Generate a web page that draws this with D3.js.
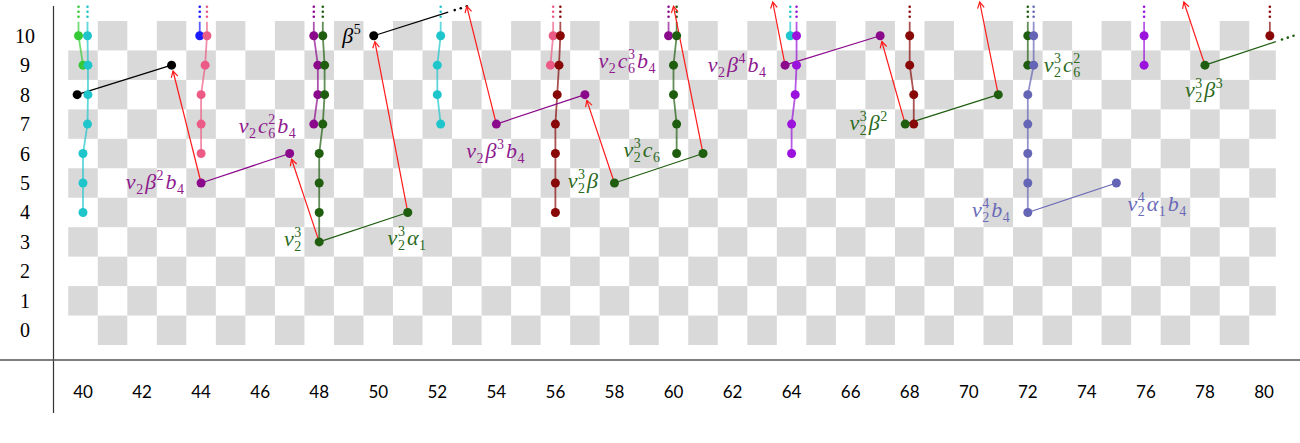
<!DOCTYPE html>
<html>
<head>
<meta charset="utf-8">
<script src="https://cdn.jsdelivr.net/npm/d3@7"></script>
<style>
  body { margin: 0; background: #fff; }
  svg { display: block; }
</style>
</head>
<body>
<div id="chart"></div>
<script>
// axis ticks
let xTicks = d3.range(40, 81, 2)
let yTicks = d3.range(0, 11)

// towers of classes joined by vertical lines: [s, dodge slot]
let towers = [
    {fam: "lime",   n: 40, pts: [[10, -1], [9, 0]]},
    {fam: "cyan",   n: 40, pts: [[10, 1], [9, 1.1], [8, 1.1], [7, 1], [6, 0], [5, 0], [4, 0]]},
    {fam: "blue",   n: 44, pts: [[10, -0.3]]},
    {fam: "pink",   n: 44, pts: [[10, 1.3], [9, 0.9], [8, 0], [7, 0], [6, 0]]},
    {fam: "plum",   n: 48, pts: [[10, -1.2], [9, -0.3], [8, -0.3], [7, -1.2]]},
    {fam: "green",  n: 48, pts: [[10, 0.8], [9, 1.2], [8, 1.2], [7, 0.8], [6, 0], [5, 0], [4, 0], [3, 0]]},
    {fam: "cyan",   n: 52, pts: [[10, 0.75], [9, 0], [8, 0], [7, 0.75]]},
    {fam: "pink",   n: 56, pts: [[10, -0.5], [9, -1.1]]},
    {fam: "maroon", n: 56, pts: [[10, 1.1], [9, 0.8], [8, 0.4], [7, 0], [6, 0], [5, 0], [4, 0]]},
    {fam: "plum",   n: 60, pts: [[10, -1.1]]},
    {fam: "green",  n: 60, pts: [[10, 0.7], [9, 0], [8, 0], [7, 0.7], [6, 0.7]]},
    {fam: "cyan",   n: 64, pts: [[10, -0.3]]},
    {fam: "violet", n: 64, pts: [[10, 1.1], [9, 1.1], [8, 0.8], [7, 0], [6, 0]]},
    {fam: "maroon", n: 68, pts: [[10, 0], [9, 0], [8, 0.9], [7, 0.9]]},
    {fam: "green",  n: 72, pts: [[10, 0], [9, 0]]},
    {fam: "slate",  n: 72, pts: [[10, 1.3], [9, 1.3], [8, 0], [7, 0], [6, 0], [5, 0], [4, 0]]},
    {fam: "violet", n: 76, pts: [[10, -0.4], [9, -0.4]]},
    {fam: "maroon", n: 80, pts: [[10, 1.3]]}
]

// single classes: [family, n, s, dodge slot]
let singles = [
    ["black", 40, 8, -1.3], ["black", 43, 9, 0], ["plum", 44, 5, 0], ["plum", 47, 6, 0],
    ["green", 51, 4, 0], ["black", 50, 10, -1], ["plum", 54, 7, 0], ["plum", 57, 8, 0],
    ["green", 58, 5, 0], ["green", 61, 6, 0], ["plum", 64, 9, -1.45], ["plum", 67, 10, 0],
    ["green", 68, 7, -1], ["green", 71, 8, 0], ["slate", 75, 5, 0], ["green", 78, 9, 0]
]

// product lines: family, from [n, s, slot], to [n, s, slot], runs off the chart
let products = [
    ["black", [40, 8, -1.3], [43, 9, 0], false],
    ["plum",  [44, 5, 0], [47, 6, 0], false],
    ["green", [48, 3, 0], [51, 4, 0], false],
    ["black", [50, 10, -1], [53, 11, 0], true],
    ["plum",  [54, 7, 0], [57, 8, 0], false],
    ["green", [58, 5, 0], [61, 6, 0], false],
    ["plum",  [64, 9, -1.45], [67, 10, 0], false],
    ["green", [68, 7, -1], [71, 8, 0], false],
    ["slate", [72, 4, 0], [75, 5, 0], false],
    ["green", [78, 9, 0], [81, 10, 0], true]
]

// differentials (red arrows): from, to
let diffs = [
    [[44, 5, 0], [43, 9, 0]],
    [[48, 3, 0], [47, 6, 0]],
    [[51, 4, 0], [50, 10, -1]],
    [[54, 7, 0], [53, 11, 0]],
    [[58, 5, 0], [57, 8, 0]],
    [[61, 6, 0], [60, 11, 0]],
    [[64, 9, -1.45], [63, 13, 0]],
    [[68, 7, -1], [67, 10, 0]],
    [[71, 8, 0], [70, 13, 0]],
    [[78, 9, 0], [77, 12, 0]]
]

// class names: family, text, anchor [n, s, slot]
let labels = [
    ["plum",  "v_{2}β^{2}b_{4}",        [44, 5, 0]],
    ["plum",  "v_{2}c_{6}^{2}b_{4}",    [47, 6, 0]],
    ["green", "v_{2}^{3}",              [48, 3, 0]],
    ["green", "v_{2}^{3}α_{1}",         [51, 4, 0]],
    ["black", "β^{5}",                  [50, 10, -1]],
    ["plum",  "v_{2}β^{3}b_{4}",        [54, 7, 0]],
    ["green", "v_{2}^{3}β",             [58, 5, 0]],
    ["green", "v_{2}^{3}c_{6}",         [61, 6, 0]],
    ["plum",  "v_{2}c_{6}^{3}b_{4}",    [60, 9, 0]],
    ["plum",  "v_{2}β^{4}b_{4}",        [64, 9, -1.45]],
    ["green", "v_{2}^{3}β^{2}",         [68, 7, -1]],
    ["green", "v_{2}^{3}c_{6}^{2}",     [72, 9, 0]],
    ["slate", "v_{2}^{4}b_{4}",         [72, 4, 0]],
    ["slate", "v_{2}^{4}α_{1}b_{4}",    [75, 5, 0]],
    ["green", "v_{2}^{3}β^{3}",         [78, 9, 0]]
]

// placement of each label relative to its anchor: dx, dy, text-anchor
let labelPlace = [
    [-15, 6, "end"], [8, -21, "end"], [-16, 4, "end"], [0, 33, "middle"], [-11, 7, "end"],
    [0, 34, "middle"], [-16, 5, "end"], [-41, 3, "end"], [-16, 3, "end"], [-17, 7, "end"],
    [-16, 6, "end"], [16, 7, "start"], [-16, 5, "end"], [11, 28, "start"], [0, 32, "middle"]
]

let palette = {
    lime: "#36c936", cyan: "#1ec6cc", black: "#000000", blue: "#1a1aff", pink: "#ec5b85",
    plum: "#8b0a8b", green: "#1f5e0f", maroon: "#880808", violet: "#9a12dc", slate: "#6565b5"
}
let labelColor = {plum: "#8e1a8e", green: "#2b6a1c", slate: "#6a6ab8", black: "#000000"}

let width = 1300, height = 443
let slotPx = 4.5, dotR = 4.5

let svg = d3.select("#chart").append("svg")
    .attr("width", width)
    .attr("height", height)

// scales
let x = d3.scaleLinear().domain([40, 80]).range([83, 1264])
let y = d3.scaleLinear().domain([-0.5, 10.5]).range([345, 21])
let colW = x(41) - x(40)

function px(p) { return x(p[0]) + (p[2] || 0) * slotPx }
function py(p) { return y(p[1]) }

// checkerboard background
let cells = []
for (let n = 40; n <= 80; n++) {
    for (let s = 0; s <= 10; s++) {
        if ((n + s) % 2 == 1) cells.push([n, s])
    }
}
svg.append("g").selectAll("rect")
    .data(cells)
    .enter()
    .append("rect")
    .attr("x", d => x(d[0]) - colW / 2)
    .attr("y", d => y(d[1] + 0.5))
    .attr("width", d => d[0] == 80 ? colW * 0.9 : colW)
    .attr("height", y(0) - y(1))
    .attr("fill", "#d9d9d9")

// axis lines
svg.append("line").attr("x1", 53.5).attr("x2", 53.5).attr("y1", 6).attr("y2", 413)
    .attr("stroke", "#333").attr("stroke-width", 1.2)
svg.append("line").attr("x1", 0).attr("x2", width).attr("y1", 360).attr("y2", 360)
    .attr("stroke", "#555").attr("stroke-width", 1.4)

// tick labels
svg.append("g").selectAll("text")
    .data(yTicks)
    .enter()
    .append("text")
    .attr("x", 25)
    .attr("y", d => y(d) + 7)
    .attr("text-anchor", "middle")
    .style("font-family", "'Liberation Serif', serif")
    .style("font-size", "20px")
    .text(d => d)

svg.append("g").selectAll("text")
    .data(xTicks)
    .enter()
    .append("text")
    .attr("x", d => x(d))
    .attr("y", 398)
    .attr("text-anchor", "middle")
    .style("font-family", "Lato, sans-serif")
    .style("font-size", "17px")
    .text(d => d)

// tower lines with the dotted continuation at the top
let towerG = svg.append("g")
towers.forEach(function(t) {
    let pts = t.pts.map(p => [t.n, p[0], p[1]])
    let col = palette[t.fam]
    towerG.append("path")
        .attr("d", d3.line().x(px).y(py)(pts))
        .attr("fill", "none")
        .attr("stroke", col)
        .attr("stroke-opacity", 0.7)
        .attr("stroke-width", 1.8)
    let top = pts[0]
    if (top[1] == 10) {
        towerG.append("line")
            .attr("x1", px(top)).attr("x2", px(top))
            .attr("y1", py(top)).attr("y2", py(top) - 14)
            .attr("stroke", col).attr("stroke-opacity", 0.7).attr("stroke-width", 1.8)
        towerG.selectAll(null)
            .data([19, 24, 29])
            .enter()
            .append("circle")
            .attr("cx", px(top))
            .attr("cy", d => py(top) - d)
            .attr("r", 1.3)
            .attr("fill", col)
    }
})

// product lines
let prodG = svg.append("g")
products.forEach(function(p) {
    let col = palette[p[0]]
    let a = p[1], b = p[2]
    let x0 = px(a), y0 = py(a), x1 = px(b), y1 = py(b)
    let f = p[3] ? 0.8 : 1
    prodG.append("line")
        .attr("x1", x0).attr("y1", y0)
        .attr("x2", x0 + (x1 - x0) * f).attr("y2", y0 + (y1 - y0) * f)
        .attr("stroke", col).attr("stroke-width", 1.2)
    if (p[3]) {
        prodG.selectAll(null)
            .data([0.87, 0.935, 1])
            .enter()
            .append("circle")
            .attr("cx", d => x0 + (x1 - x0) * d)
            .attr("cy", d => y0 + (y1 - y0) * d)
            .attr("r", 1.3)
            .attr("fill", col)
    }
})

// differentials, clipped at the top of the picture
let arrowG = svg.append("g")
diffs.forEach(function(d) {
    let a = d[0], b = d[1]
    let x0 = px(a), y0 = py(a), x1 = px(b), y1 = py(b)
    let len = Math.hypot(x1 - x0, y1 - y0)
    let ux = (x1 - x0) / len, uy = (y1 - y0) / len
    let tx, ty
    if (b[1] <= 10) {
        tx = x1 - ux * 6
        ty = y1 - uy * 6
    } else {
        let t = Math.min(1, (y0 - 2) / (y0 - y1))
        tx = x0 + (x1 - x0) * t
        ty = y0 + (y1 - y0) * t
    }
    arrowG.append("line")
        .attr("x1", x0).attr("y1", y0).attr("x2", tx).attr("y2", ty)
        .attr("stroke", "#ff1a1a").attr("stroke-width", 1.2)
    let ang = Math.atan2(uy, ux)
    let head = [ang + Math.PI - 0.5, ang + Math.PI + 0.5].map(g => [tx + 7 * Math.cos(g), ty + 7 * Math.sin(g)])
    arrowG.append("path")
        .attr("d", "M" + head[0] + "L" + tx + "," + ty + "L" + head[1])
        .attr("fill", "none")
        .attr("stroke", "#ff1a1a").attr("stroke-width", 1.2)
})

// dots
let dots = []
towers.forEach(t => t.pts.forEach(p => dots.push({fam: t.fam, p: [t.n, p[0], p[1]]})))
singles.forEach(s => dots.push({fam: s[0], p: [s[1], s[2], s[3]]}))
svg.append("g").selectAll("circle")
    .data(dots)
    .enter()
    .append("circle")
    .attr("cx", d => px(d.p))
    .attr("cy", d => py(d.p))
    .attr("r", dotR)
    .attr("fill", d => palette[d.fam])

// parse the small TeX-like names into base / sub / sup pieces
function parseName(str) {
    let out = []
    let i = 0
    while (i < str.length) {
        let c = str[i]
        if (c == "_" || c == "^") {
            let j = str.indexOf("}", i)
            let txt = str.slice(i + 2, j)
            let last = out[out.length - 1]
            last[c == "_" ? "sub" : "sup"] = txt
            i = j + 1
        } else {
            out.push({base: c})
            i++
        }
    }
    return out
}

let mathFont = "'Liberation Serif', 'DejaVu Serif', serif"
let labelG = svg.append("g")
labels.forEach(function(l, i) {
    let place = labelPlace[i]
    let g = labelG.append("g")
    let col = labelColor[l[0]]
    let cx = 0
    parseName(l[1]).forEach(function(tok) {
        let t = g.append("text")
            .attr("x", cx).attr("y", 0)
            .style("font-family", mathFont)
            .style("font-style", "italic")
            .style("font-size", "22px")
            .attr("fill", col)
            .text(tok.base)
        cx += t.node().getComputedTextLength() + 0.5
        let w = 0
        if (tok.sub) {
            let s = g.append("text").attr("x", cx).attr("y", 5)
                .style("font-family", mathFont).style("font-size", "14px")
                .attr("fill", col).text(tok.sub)
            w = Math.max(w, s.node().getComputedTextLength())
        }
        if (tok.sup) {
            let s = g.append("text").attr("x", cx).attr("y", -9)
                .style("font-family", mathFont).style("font-size", "14px")
                .attr("fill", col).text(tok.sup)
            w = Math.max(w, s.node().getComputedTextLength())
        }
        if (w > 0) cx += w + 2
    })
    let shift = place[2] == "end" ? -cx : place[2] == "middle" ? -cx / 2 : 0
    let ax = px(l[2]) + place[0] + shift
    let ay = py(l[2]) + place[1]
    g.attr("transform", "translate(" + ax + "," + ay + ")")
})
</script>
</body>
</html>
